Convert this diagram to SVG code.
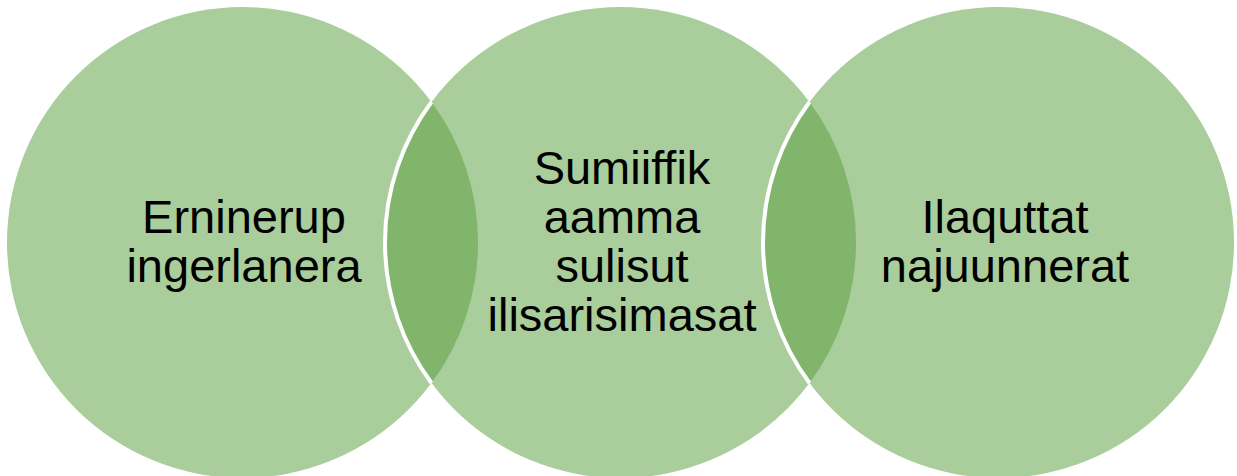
<svg xmlns="http://www.w3.org/2000/svg" width="1237" height="476" viewBox="0 0 1237 476">
  <style>
    .circle { fill: #A9CD9B; stroke: none; }
    .lens { fill: #80B56B; stroke: none; }
    .edge { fill: none; stroke: #FFFFFF; stroke-width: 4; }
    .label { font-family: "Liberation Sans", Arial, sans-serif; font-size: 47px; fill: #000000; text-anchor: middle; }
  </style>
  <rect x="0" y="0" width="1237" height="476" fill="#FFFFFF"/>
  <g id="node-left">
    <circle class="circle" cx="242.5" cy="242.5" r="235.5"/>
  </g>
  <g id="node-middle">
    <circle class="circle" cx="620.5" cy="242.5" r="235.5"/>
  </g>
  <g id="node-right">
    <circle class="circle" cx="998.5" cy="242.5" r="235.5"/>
  </g>
  <g id="overlaps">
    <path class="lens" d="M431.5,102 A235.5,235.5 0 0,1 431.5,383 A235.5,235.5 0 0,1 431.5,102 Z"/>
    <path class="lens" d="M809.5,102 A235.5,235.5 0 0,1 809.5,383 A235.5,235.5 0 0,1 809.5,102 Z"/>
    <path class="edge" d="M431.5,102 A235.5,235.5 0 0,0 431.5,383"/>
    <path class="edge" d="M809.5,102 A235.5,235.5 0 0,0 809.5,383"/>
  </g>
  <g id="connectors"></g>
  <g id="label-left">
    <text class="label" x="244" y="233">Erninerup</text>
    <text class="label" x="244" y="282">ingerlanera</text>
  </g>
  <g id="label-middle">
    <text class="label" x="622" y="184">Sumiiffik</text>
    <text class="label" x="622" y="233">aamma</text>
    <text class="label" x="622" y="282">sulisut</text>
    <text class="label" x="622" y="331">ilisarisimasat</text>
  </g>
  <g id="label-right">
    <text class="label" x="1005" y="233">Ilaquttat</text>
    <text class="label" x="1005" y="282">najuunnerat</text>
  </g>
</svg>
